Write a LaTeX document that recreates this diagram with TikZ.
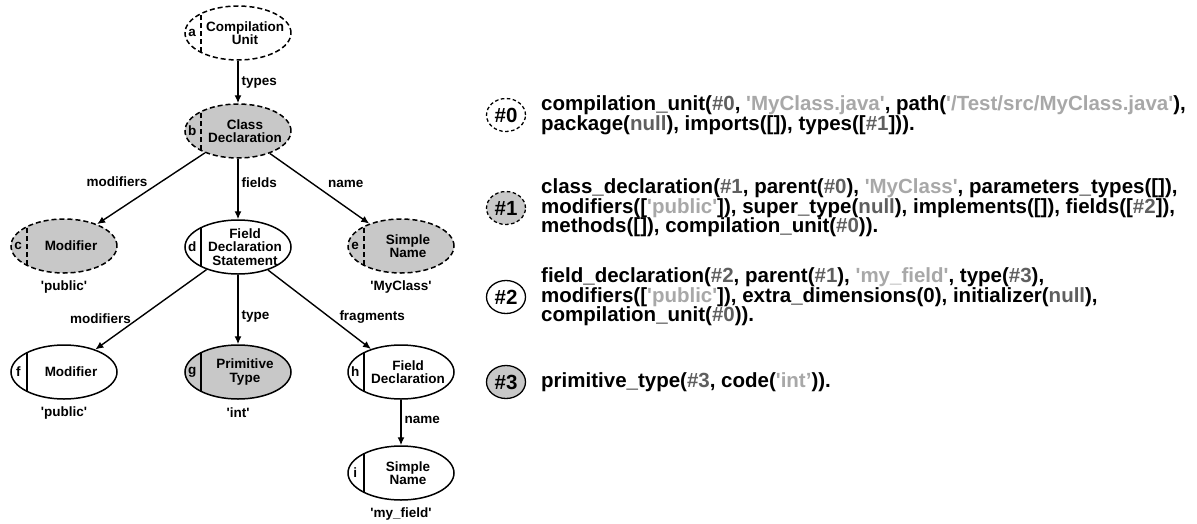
\documentclass[tikz,border=0pt]{standalone}
\usepackage{fontspec}
\newfontfamily\hv{Liberation Sans}
\usetikzlibrary{arrows.meta,shapes.geometric}

\definecolor{nodefill}{RGB}{200,200,200}
\definecolor{idgray}{RGB}{95,95,95}
\definecolor{strgray}{RGB}{168,168,168}
\newcommand\idc[1]{\textcolor{idgray}{#1}}
\newcommand\strc[1]{\textcolor{strgray}{#1}}

\tikzset{
  astnode/.style={ellipse, draw, line width=1.5pt, minimum width=106pt,
    minimum height=54pt, inner sep=0pt,
    path picture={\draw[line width=1.5pt]
      ([xshift=16pt]path picture bounding box.south west) --
      ([xshift=16pt]path picture bounding box.north west);}},
  virtual/.style={dash pattern=on 5pt off 3pt},
  shaded/.style={fill=nodefill},
  ntext/.style={inner sep=0pt, align=center,
    font=\hv\bfseries\fontsize{13.5}{13.5}\selectfont},
  nletter/.style={inner sep=0pt, font=\hv\bfseries\fontsize{13.5}{13.5}\selectfont},
  elab/.style={inner sep=3pt, font=\hv\bfseries\fontsize{13.5}{13.5}\selectfont},
  vlab/.style={inner sep=0pt, font=\hv\bfseries\fontsize{13.5}{13.5}\selectfont},
  arr/.style={line width=1.4pt, -{Latex[length=8pt,width=7pt]}},
  idnode/.style={ellipse, draw, line width=1.3pt, minimum width=39pt,
    minimum height=33pt, inner sep=0pt,
    font=\hv\bfseries\fontsize{20.5}{19.5}\selectfont},
  smalldash/.style={dash pattern=on 3.5pt off 2.5pt},
  code/.style={inner sep=0pt, anchor=west, align=left,
    font=\hv\bfseries\fontsize{20.5}{19.5}\selectfont},
}

\begin{document}
\begin{tikzpicture}[x=1pt, y=-1pt]
\useasboundingbox (0,0) rectangle (1197,523);

% ---- tree nodes ----
\node[astnode, virtual] (a) at (238,33) {};
\node[ntext] (a-t) at ([xshift=7pt]a.center) {Compilation\\Unit};
\node[nletter] (a-l) at ([xshift=8pt]a.west) {a};

\node[astnode, virtual, shaded] (b) at (238,131) {};
\node[ntext] (b-t) at ([xshift=7pt]b.center) {Class\\Declaration};
\node[nletter] (b-l) at ([xshift=8pt]b.west) {b};

\node[astnode, virtual, shaded] (c) at (64,246) {};
\node[ntext] (c-t) at ([xshift=7pt]c.center) {Modifier};
\node[nletter] (c-l) at ([xshift=8pt]c.west) {c};
\node[vlab] (c-v) at ([yshift=-13pt]c.south) {'public'};

\node[astnode] (d) at (238,247) {};
\node[ntext] (d-t) at ([xshift=7pt]d.center) {Field\\Declaration\\Statement};
\node[nletter] (d-l) at ([xshift=8pt]d.west) {d};

\node[astnode, virtual, shaded] (e) at (401,246) {};
\node[ntext] (e-t) at ([xshift=7pt]e.center) {Simple\\Name};
\node[nletter] (e-l) at ([xshift=8pt]e.west) {e};
\node[vlab] (e-v) at ([yshift=-13pt]e.south) {'MyClass'};

\node[astnode] (f) at (64,372) {};
\node[ntext] (f-t) at ([xshift=7pt]f.center) {Modifier};
\node[nletter] (f-l) at ([xshift=8pt]f.west) {f};
\node[vlab] (f-v) at ([yshift=-13pt]f.south) {'public'};

\node[astnode, shaded] (g) at (238,372) {};
\node[ntext] (g-t) at ([xshift=7pt]g.center) {Primitive\\Type};
\node[nletter] (g-l) at ([xshift=8pt]g.west) {g};
\node[vlab] (g-v) at ([yshift=-13pt]g.south) {'int'};

\node[astnode] (h) at (401,372) {};
\node[ntext] (h-t) at ([xshift=7pt]h.center) {Field\\Declaration};
\node[nletter] (h-l) at ([xshift=8pt]h.west) {h};

\node[astnode] (i) at (401,473) {};
\node[ntext] (i-t) at ([xshift=7pt]i.center) {Simple\\Name};
\node[nletter] (i-l) at ([xshift=8pt]i.west) {i};
\node[vlab] (i-v) at ([yshift=-13pt]i.south) {'my\_field'};

% ---- tree edges ----
\draw[arr] (a) -- (b) node[elab, right, pos=0.5] {types};
\draw[arr] (b) -- (c) node[elab, above left, pos=0.5, yshift=-2pt] {modifiers};
\draw[arr] (b) -- (d) node[elab, right, pos=0.4] {fields};
\draw[arr] (b) -- (e) node[elab, above right, pos=0.5, xshift=5pt, yshift=-3pt] {name};
\draw[arr] (d) -- (f) node[elab, left, pos=0.62, xshift=-3pt] {modifiers};
\draw[arr] (d) -- (g) node[elab, right, pos=0.6] {type};
\draw[arr] (d) -- (h) node[elab, right, pos=0.6, xshift=6pt] {fragments};
\draw[arr] (h) -- (i) node[elab, right, pos=0.45] {name};

% ---- fact listing ----
\node[idnode, smalldash] (k0) at (506,115) {\#0};
\node[code] (t0) at (541,115)
  {compilation\_unit(\idc{\#0}, \strc{'MyClass.java'}, path(\strc{'/Test/src/MyClass.java'}),\\
   package(\idc{null}), imports([]), types([\idc{\#1}])).};

\node[idnode, smalldash, shaded] (k1) at (506,208) {\#1};
\node[code] (t1) at (541,208)
  {class\_declaration(\idc{\#1}, parent(\idc{\#0}), \strc{'MyClass'}, parameters\_types([]),\\
   modifiers([\strc{'public'}]), super\_type(\idc{null}), implements([]), fields([\idc{\#2}]),\\
   methods([]), compilation\_unit(\idc{\#0})).};

\node[idnode] (k2) at (506,297) {\#2};
\node[code] (t2) at (541,297)
  {field\_declaration(\idc{\#2}, parent(\idc{\#1}), \strc{'my\_field'}, type(\idc{\#3}),\\
   modifiers([\strc{'public'}]), extra\_dimensions(0), initializer(\idc{null}),\\
   compilation\_unit(\idc{\#0})).};

\node[idnode, shaded] (k3) at (506,382) {\#3};
\node[code] (t3) at (541,382)
  {primitive\_type(\idc{\#3}, code(\strc{'int’})).};
\end{tikzpicture}
\end{document}
